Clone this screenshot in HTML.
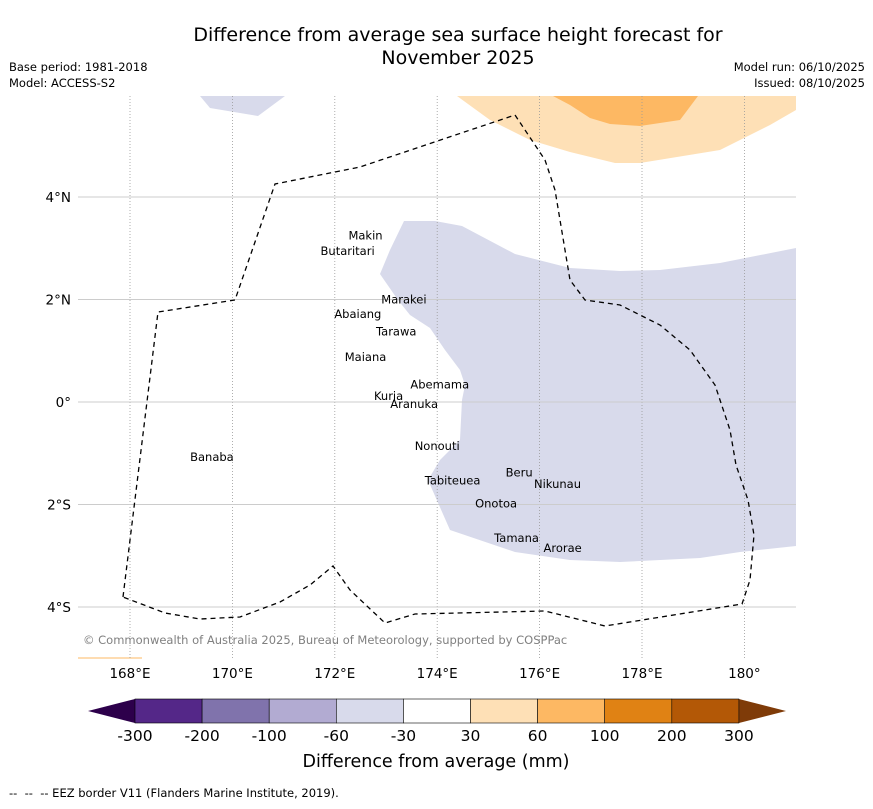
<!DOCTYPE html>
<html><head><meta charset="utf-8"><style>
body{margin:0;background:#fff;font-family:"Liberation Sans","DejaVu Sans",sans-serif}
svg text{font-family:"DejaVu Sans","Liberation Sans",sans-serif}
</style></head><body>
<svg width="873" height="804" viewBox="0 0 873 804" xmlns="http://www.w3.org/2000/svg">
<text x="458" y="41" font-size="19" text-anchor="middle">Difference from average sea surface height forecast for</text>
<text x="458" y="64" font-size="19" text-anchor="middle">November 2025</text>
<text x="9" y="71" font-size="11.5">Base period: 1981-2018</text>
<text x="9" y="87" font-size="11.5">Model: ACCESS-S2</text>
<text x="865" y="71" font-size="11.5" text-anchor="end">Model run: 06/10/2025</text>
<text x="865" y="87" font-size="11.5" text-anchor="end">Issued: 08/10/2025</text>
<g id="map">
<path d="M200,96 L285,96 L258,116 L210,108Z" fill="#d8daeb"/>
<path d="M457,96 L796,96 L796,110 L770,125 L720,150 L640,163 L615,163 L570,152 L530,140 L490,120Z" fill="#fee0b6"/>
<path d="M553,96 L698,96 L680,120 L640,126 L610,124 L590,118 L570,105Z" fill="#fdb863"/>
<path d="M404,221 L435,221 L462,226 L515,254 L570,268 L620,271 L660,270 L720,263 L796,248 L796,546 L740,552 L700,558 L620,562 L570,560 L515,552 L450,530 L428,480 L440,460 L460,440 L462,400 L465,385 L460,370 L445,350 L430,328 L410,315 L398,300 L380,274 L390,250Z" fill="#d8daeb"/>
<path d="M78,658 L142,658" stroke="#fdb863" stroke-width="1"/>
<g id="grid"></g>
<path d="M123,597 L158,312 L235,300 L275,184 L360,167 L515,115 L545,160 L555,190 L570,280 L585,300 L620,305 L660,325 L690,350 L715,385 L730,430 L736,465 L748,500 L754,535 L750,580 L742,604 L605,626 L545,611 L415,614 L385,623 L350,590 L333,566 L310,585 L280,602 L240,617 L200,619 L165,613 L123,597" fill="none" stroke="#000" stroke-width="1.3" stroke-dasharray="5,4"/>
<g id="islands" font-size="11.5"></g>
<text x="83" y="644" font-size="11.5" fill="#808080">© Commonwealth of Australia 2025, Bureau of Meteorology, supported by COSPPac</text>
</g>
<g id="cbar"></g>
<text x="436" y="767" font-size="17.5" text-anchor="middle">Difference from average (mm)</text>
<text x="9" y="797" font-size="11.5" xml:space="preserve">--  --  -- EEZ border V11 (Flanders Marine Institute, 2019).</text>
</svg>
<script>
const lonTicks=[168,170,172,174,176,178,180];
const lonLabels=["168°E","170°E","172°E","174°E","176°E","178°E","180°"];
const latTicks=[4,2,0,-2,-4];
const latLabels=["4°N","2°N","0°","2°S","4°S"];
const islandNames=["Makin","Butaritari","Marakei","Abaiang","Tarawa","Maiana","Abemama","Kuria","Aranuka","Banaba","Nonouti","Beru","Nikunau","Tabiteuea","Onotoa","Tamana","Arorae"];
const islandLon=[172.6,172.25,173.35,172.45,173.2,172.6,174.05,173.05,173.55,169.6,174.0,175.6,176.35,174.3,175.15,175.55,176.45];
const islandLat=[3.25,2.95,2.0,1.72,1.38,0.88,0.34,0.12,-0.04,-1.07,-0.86,-1.38,-1.6,-1.53,-1.98,-2.65,-2.85];
const cbBounds=["-300","-200","-100","-60","-30","30","60","100","200","300"];
const cbColors=["#542788","#8073ac","#b2abd2","#d8daeb","#ffffff","#fee0b6","#fdb863","#e08214","#b35806"];
const NS="http://www.w3.org/2000/svg";
const x=lon=>130+(lon-168)*51.2;
const y=lat=>402-lat*51.25;
function mk(t,a,p){const e=document.createElementNS(NS,t);for(const k in a)e.setAttribute(k,a[k]);p.appendChild(e);return e;}
const grid=document.getElementById('grid');
const svg=document.querySelector('svg');
lonTicks.forEach((v,i)=>{
 const l=mk('line',{x1:x(v),x2:x(v),y1:96,y2:658,stroke:'#999','stroke-width':0.8,'stroke-dasharray':'1,2'},grid);
 
 
 const t=mk('text',{x:x(v),y:678,'font-size':13.5,'text-anchor':'middle'},svg);
 t.textContent=lonLabels[i];
 
 
});
latTicks.forEach((v,i)=>{
 const l=mk('line',{x1:78,x2:796,y1:y(v),y2:y(v),stroke:'#ccc','stroke-width':1},grid);
 
 
 const t=mk('text',{x:71,y:y(v)+5,'font-size':13.5,'text-anchor':'end'},svg);
 t.textContent=latLabels[i];
 
 
});
const isl=document.getElementById('islands');
islandNames.forEach((n,i)=>{
 const t=mk('text',{x:x(islandLon[i]),y:y(islandLat[i])+4,'text-anchor':'middle'},isl);
 t.textContent=n;
 
 
});
const cb=document.getElementById('cbar');
const x0=135,w=67.1,y0=699,h=24;
const lt=mk('path',{d:`M${x0},${y0} L88,${y0+h/2} L${x0},${y0+h}Z`,fill:'#2d004b'},cb);


const xe=x0+w*cbColors.length;
const rt=mk('path',{d:`M${xe},${y0} L786,${y0+h/2} L${xe},${y0+h}Z`,fill:'#7f3b08'},cb);


cbColors.forEach((c,i)=>{
 const r=mk('rect',{x:x0+i*w,y:y0,width:w,height:h,fill:c,stroke:'#000','stroke-width':0.6},cb);
 
 
});
cbBounds.forEach((b,i)=>{
 const t=mk('text',{x:x0+i*w,y:741,'font-size':15.5,'text-anchor':'middle'},cb);
 t.textContent=b;
 
 
});
</script>
</body></html>
